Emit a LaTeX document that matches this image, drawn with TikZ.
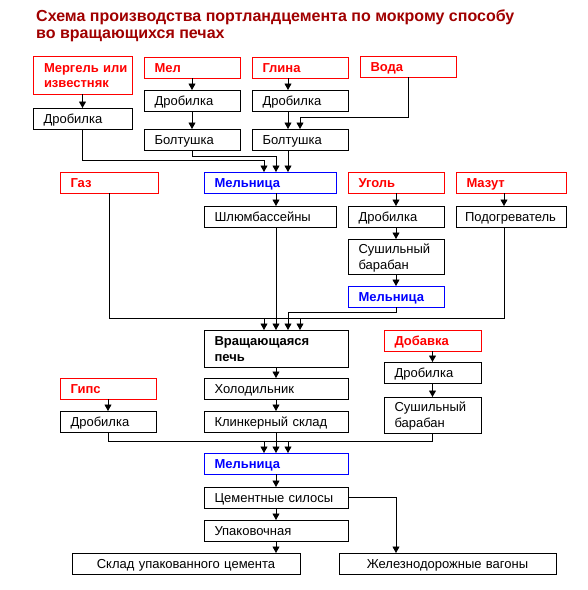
\documentclass[tikz,border=0pt]{standalone}
\usepackage{fontspec}
\setmainfont{Liberation Sans}
\usetikzlibrary{positioning,arrows.meta,calc}
\definecolor{ttlred}{RGB}{160,0,0}
\definecolor{inred}{RGB}{255,0,0}
\definecolor{millblue}{RGB}{0,0,255}
\tikzset{
  box/.style={draw=black, line width=0.9pt, outer sep=0pt, font=\fontsize{13}{16}\selectfont, align=left, inner xsep=10.5pt, inner ysep=0pt, minimum height=21pt, text height=10pt, text depth=0.7pt, text width=#1-21pt},
  box/.default=96pt,
  twoln/.style={text depth=16.7pt},
  src/.style={box=#1, draw=inred, text=inred, font=\fontsize{13}{16}\selectfont\bfseries},
  src/.default=96pt,
  mill/.style={box=#1, draw=millblue, text=millblue, font=\fontsize{13}{16}\selectfont\bfseries},
  mill/.default=144pt,
  mid/.style={box=#1, align=center},
  ttl/.style={text=ttlred, font=\fontsize{16}{17.5}\selectfont\bfseries, align=left, inner sep=0pt},
  fl/.style={line width=0.9pt},
  ar/.style={-{Triangle[length=6.5pt,width=7pt]}, line width=0.9pt},
}
\begin{document}
\begin{tikzpicture}[x=1pt, y=-1pt]
\useasboundingbox (0,0) rectangle (588,590);
\node[ttl, anchor=north west] (title) at (36,9.5) {Схема производства портландцемента по мокрому способу\\во вращающихся печах};
% raw materials
\node[src=99pt, twoln, text depth=15.7pt, font=\fontsize{13}{15}\selectfont\bfseries, inner xsep=3pt, text width=93pt, minimum height=38pt, anchor=north west] (mergel) at (33,56) {\hspace*{8pt}Мергель или\\\hspace*{8pt}известняк};
\node[src, anchor=north west] (mel) at (144,57) {Мел};
\node[src, anchor=north west] (glina) at (252,57) {Глина};
\node[src, anchor=north west] (voda) at (360,56) {Вода};
\node[box=99pt, below=14pt of mergel] (drob1) {Дробилка};
\node[box, below=12pt of mel] (drob2) {Дробилка};
\node[box, below=18pt of drob2] (bolt2) {Болтушка};
\node[box, below=12pt of glina] (drob3) {Дробилка};
\node[box, below=18pt of drob3] (bolt3) {Болтушка};
% slurry and fuel
\node[src=98pt, anchor=north west] (gaz) at (60,172) {Газ};
\node[mill=132pt, anchor=north west] (mill1) at (204,172) {Мельница};
\node[src, anchor=north west] (ugol) at (348,172) {Уголь};
\node[src=110pt, anchor=north west] (mazut) at (456,172) {Мазут};
\node[box=132pt, below=13pt of mill1] (shlam) {Шлюмбассейны};
\node[box, below=13pt of ugol] (drob4) {Дробилка};
\node[box=110pt, inner xsep=9pt, text width=92pt, below=13pt of mazut] (podogr) {Подогреватель};
\node[box, twoln, minimum height=35pt, below=12pt of drob4] (sush1) {Сушильный\\барабан};
\node[mill=96pt, below=12pt of sush1] (mill2) {Мельница};
% kiln and clinker
\node[box=144pt, twoln, minimum height=37pt, font=\fontsize{13}{16}\selectfont\bfseries, anchor=north west] (pech) at (204,330) {Вращающаяся\\печь};
\node[src=97pt, anchor=north west] (dobavka) at (384,330) {Добавка};
\node[box=144pt, below=11pt of pech] (holod) {Холодильник};
\node[box=144pt, below=12pt of holod] (klinker) {Клинкерный склад};
\node[box=97pt, below=11pt of dobavka] (drob6) {Дробилка};
\node[box=97pt, twoln, minimum height=36pt, below=14pt of drob6] (sush2) {Сушильный\\барабан};
\node[src, anchor=north west] (gips) at (60,378) {Гипс};
\node[box, below=12pt of gips] (drob5) {Дробилка};
% cement
\node[mill, below=21pt of klinker] (mill3) {Мельница};
\node[box=144pt, below=13pt of mill3] (silos) {Цементные силосы};
\node[box=144pt, below=12pt of silos] (upak) {Упаковочная};
\node[mid=228pt, anchor=north west] (sklad) at (72,553) {Склад упакованного цемента};
\node[mid=217pt, anchor=north west] (vagon) at (339,553) {Железнодорожные вагоны};
\coordinate (pbar1) at ($(pech.north)+(-12pt,12pt)$);
\coordinate (pbar4) at ($(pech.north)+(24pt,12pt)$);
\coordinate (mbar1) at ($(mill3.north)+(-12pt,12pt)$);
\coordinate (mbar3) at ($(mill3.north)+(12pt,12pt)$);
% connectors
\draw[ar] (mergel) -- (drob1);
\draw[ar] (mel) -- (drob2);
\draw[ar] (drob2) -- (bolt2);
\draw[ar] ([xshift=-12pt]glina.south) -- ([xshift=-12pt]drob3.north);
\draw[ar] ([xshift=-12pt]drob3.south) -- ([xshift=-12pt]bolt3.north);
\draw[ar] (voda.south) |- ($(bolt3.north)+(0,12pt)$) -- (bolt3.north);
\draw[ar] (drob1.south) |- ($(mill1.north)+(-6pt,12pt)$) -- ([xshift=-6pt]mill1.north);
\draw[ar] (bolt2.south) -- ++(0,-6pt) -| ([xshift=6pt]mill1.north);
\draw[ar] ([xshift=-12pt]bolt3.south) -- ([xshift=18pt]mill1.north);
\draw[ar] ([xshift=6pt]mill1.south) -- ([xshift=6pt]shlam.north);
\draw[ar] (ugol) -- (drob4);
\draw[ar] (drob4) -- (sush1);
\draw[ar] (sush1) -- (mill2);
\draw[ar] ([xshift=-7pt]mazut.south) -- ([xshift=-7pt]podogr.north);
\draw[ar] (gaz.south) |- (pbar1) -- ([xshift=-12pt]pech.north);
\draw[ar] ([xshift=6pt]shlam.south) -- (pech.north);
\draw[ar] (mill2.south) |- ($(pech.north)+(12pt,18pt)$) -- ([xshift=12pt]pech.north);
\draw[ar] ([xshift=-7pt]podogr.south) |- (pbar4) -- ([xshift=24pt]pech.north);
\draw[fl] (pbar1) -- (pbar4);
\draw[ar] (pech) -- (holod);
\draw[ar] (holod) -- (klinker);
\draw[ar] (dobavka) -- (drob6);
\draw[ar] (drob6) -- (sush2);
\draw[ar] (gips) -- (drob5);
\draw[ar] (drob5.south) |- (mbar1) -- ([xshift=-12pt]mill3.north);
\draw[ar] (klinker) -- (mill3);
\draw[ar] (sush2.south) |- (mbar3) -- ([xshift=12pt]mill3.north);
\draw[fl] (mbar1) -- (mbar3);
\draw[ar] (mill3) -- (silos);
\draw[ar] (silos) -- (upak);
\draw[ar] (upak.south) -- (upak.south |- sklad.north);
\draw[ar] (silos.east) -| ($(vagon.north west)+(57pt,0)$);
\end{tikzpicture}
\end{document}
